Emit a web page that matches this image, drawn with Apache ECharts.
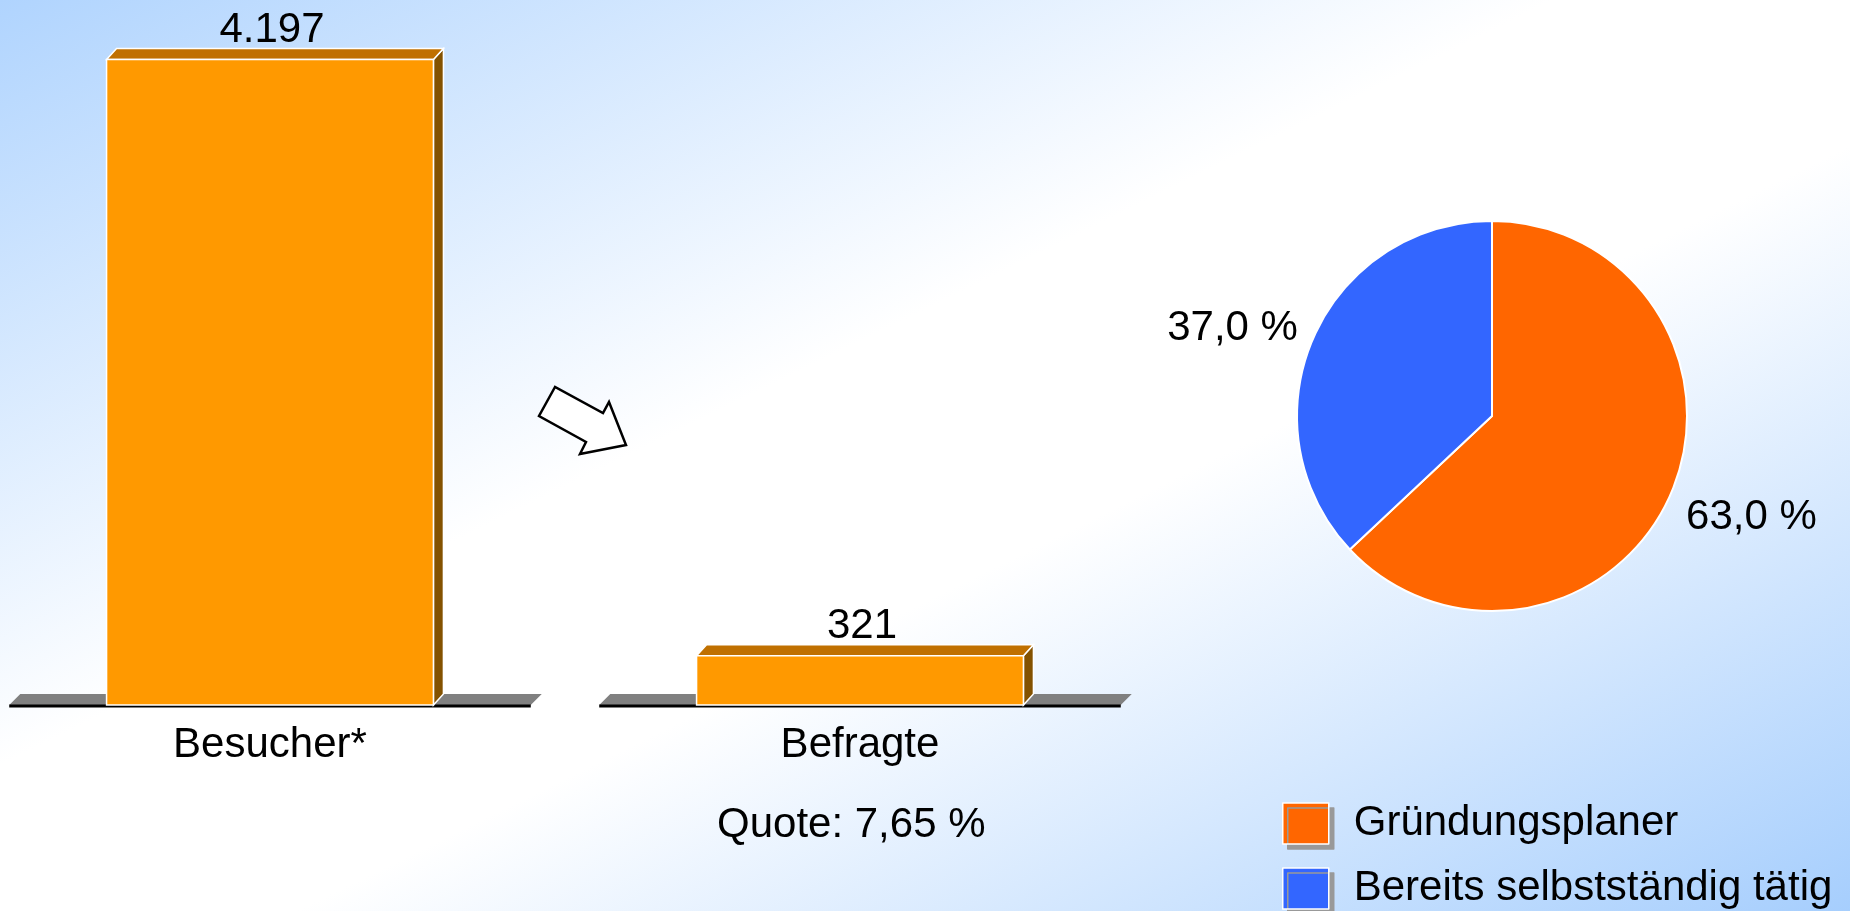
<!DOCTYPE html>
<html>
<head>
<meta charset="utf-8">
<script src="https://cdn.jsdelivr.net/npm/echarts@6/dist/echarts.min.js"></script>
<style>
  html, body { margin: 0; padding: 0; }
  body {
    width: 1850px; height: 911px; overflow: hidden;
    background: linear-gradient(to bottom right, #b0d4fe 0%, #ffffff 42%, #ffffff 58%, #a6cefd 100%);
  }
  #chart { width: 1850px; height: 911px; }
</style>
</head>
<body>
<div id="chart"></div>
<script>
// Balken: Besucher / Befragte
let categories = ['Besucher*', 'Befragte'];
let counts = [4197, 321];
let quoteText = 'Quote: 7,65 %';

// Kreis: Anteile der Befragten
let pieNames = ['Gründungsplaner', 'Bereits selbstständig tätig'];
let pieValues = [63.0, 37.0];
let pieColors = ['#ff6600', '#3366ff'];

const FONT = 'Liberation Sans, Arial, sans-serif';

// 4197 -> "4.197"
function fmtThousand(v) {
  return String(v).replace(/\B(?=(\d{3})+(?!\d))/g, '.');
}

let myChart = echarts.init(document.getElementById('chart'));

function renderBar(params, api) {
  let idx = api.value(0);
  let val = api.value(1);
  let top = api.coord([idx, val]);
  let base = api.coord([idx, 0]);
  let band = api.size([1, 0])[0];
  let cx = top[0];
  let half = band * 0.277;   // halbe Balkenbreite
  let fHalf = band * 0.442;  // halbe Bodenbreite
  let dx = 10, dy = 11;      // 3D-Tiefe
  let t = top[1], b = base[1];
  return {
    type: 'group',
    children: [
      // Boden
      {
        type: 'polygon',
        shape: {points: [[cx - fHalf, b], [cx - fHalf + dy, b - dy], [cx + fHalf + dy, b - dy], [cx + fHalf, b]]},
        style: {fill: '#808080'}
      },
      {
        type: 'line',
        shape: {x1: cx - fHalf, y1: b + 1, x2: cx + fHalf, y2: b + 1},
        style: {stroke: '#000', lineWidth: 3}
      },
      // Seite
      {
        type: 'polygon',
        shape: {points: [[cx + half, t], [cx + half + dx, t - dy], [cx + half + dx, b - dy], [cx + half, b]]},
        style: {fill: '#845200', stroke: '#fff', lineWidth: 1.5}
      },
      // Deckel
      {
        type: 'polygon',
        shape: {points: [[cx - half, t], [cx - half + dx, t - dy], [cx + half + dx, t - dy], [cx + half, t]]},
        style: {fill: '#c07000', stroke: '#fff', lineWidth: 1.5}
      },
      // Front
      {
        type: 'rect',
        shape: {x: cx - half, y: t, width: half * 2, height: b - t},
        style: {fill: '#ff9900', stroke: '#fff', lineWidth: 1.5}
      },
      {
        type: 'text',
        style: {
          text: fmtThousand(val),
          x: cx + 2, y: t - dy - 18,
          align: 'center', verticalAlign: 'middle',
          fontSize: 42, fontFamily: FONT, fill: '#000'
        }
      }
    ]
  };
}

let option = {
  backgroundColor: 'transparent',
  animation: false,
  textStyle: {fontFamily: FONT},
  grid: {left: 270, width: 590, top: 13, bottom: 206},
  xAxis: {
    type: 'category',
    data: categories,
    boundaryGap: false,
    axisLine: {show: false},
    axisTick: {show: false},
    splitLine: {show: false},
    axisLabel: {fontSize: 42, color: '#000', margin: 19, fontFamily: FONT}
  },
  yAxis: {
    type: 'value',
    min: 0,
    max: 4500,
    show: false
  },
  legend: {
    orient: 'vertical',
    left: 1277,
    top: 793,
    height: 200,
    itemWidth: 46,
    itemHeight: 41,
    itemGap: 14,
    selectedMode: false,
    icon: 'rect',
    data: pieNames,
    itemStyle: {
      borderColor: '#fff',
      borderWidth: 1.5,
      shadowColor: '#999999',
      shadowBlur: 0,
      shadowOffsetX: 5,
      shadowOffsetY: 5
    },
    textStyle: {fontSize: 42, lineHeight: 41, color: '#000', fontFamily: FONT, padding: [10, 0, 0, 20]}
  },
  graphic: [
    {
      type: 'polygon',
      shape: {points: [[555, 387], [539, 416], [586, 442], [580, 454], [626, 445], [609, 402], [603, 413]]},
      style: {fill: '#fff', stroke: '#000', lineWidth: 2.5}
    },
    {
      type: 'text',
      left: 717,
      top: 804,
      style: {text: quoteText, fontSize: 42, fontFamily: FONT, fill: '#000'}
    }
  ],
  series: [
    {
      type: 'custom',
      renderItem: renderBar,
      data: counts.map((v, i) => [i, v]),
      encode: {x: 0, y: 1},
      silent: true
    },
    {
      type: 'pie',
      center: [1492, 416],
      radius: 195,
      startAngle: 90,
      clockwise: true,
      silent: true,
      itemStyle: {borderColor: '#fff', borderWidth: 2},
      label: {
        show: true,
        position: 'outside',
        fontSize: 42,
        color: '#000',
        fontFamily: FONT,
        formatter: p => p.value.toFixed(1).replace('.', ',') + ' %'
      },
      labelLine: {show: false, length: 11, length2: 0},
      labelLayout: p => ({dy: p.dataIndex === 0 ? 20 : -6}),
      data: pieNames.map((n, i) => ({name: n, value: pieValues[i], itemStyle: {color: pieColors[i]}}))
    }
  ]
};
myChart.setOption(option);
</script>
</body>
</html>
